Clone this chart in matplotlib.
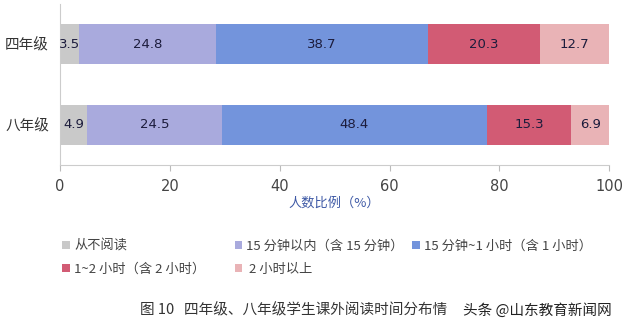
import numpy as np
import matplotlib
matplotlib.use('Agg')
import matplotlib.pyplot as plt
from matplotlib.patches import Patch

plt.rcParams['font.family'] = ['Noto Sans CJK SC', 'DejaVu Sans']

grades = ['八年级', '四年级']
categories = ['从不阅读', '15 分钟以内（含 15 分钟）', '15 分钟~1 小时（含 1 小时）',
              '1~2 小时（含 2 小时）', '2 小时以上']
# rows follow grades order (八年级, 四年级)
values = {
    '从不阅读': [4.9, 3.5],
    '15 分钟以内（含 15 分钟）': [24.5, 24.8],
    '15 分钟~1 小时（含 1 小时）': [48.4, 38.7],
    '1~2 小时（含 2 小时）': [15.3, 20.3],
    '2 小时以上': [6.9, 12.7],
}
colors = ['#c9c9c9', '#a9aadd', '#7394dc', '#d25b74', '#e9b3b6']
xticks = [0, 20, 40, 60, 80, 100]

fig = plt.figure(figsize=(6.4, 3.32), dpi=100)
ax = fig.add_axes([0.094, 0.503, 0.858, 0.485])

y = np.arange(len(grades))
left = np.zeros(len(grades))
handles = []
for cat, col in zip(categories, colors):
    vals = np.array(values[cat])
    ax.barh(y, vals, left=left, height=0.5, color=col, edgecolor='none')
    for yi, (l, v) in enumerate(zip(left, vals)):
        ax.text(l + v / 2, yi, f'{v:.1f}', ha='center', va='center',
                fontsize=9.5, color='#1c1c3c', family='DejaVu Sans')
    left += vals
    handles.append(Patch(facecolor=col, edgecolor='none'))

ax.set_xlim(0, 100)
ax.set_ylim(-0.5, 1.5)
ax.set_xticks(xticks)
ax.set_xticklabels([str(t) for t in xticks], family='DejaVu Sans')
ax.set_yticks(y)
ax.set_yticklabels(grades, fontsize=10.5, color='#333333')
ax.tick_params(axis='y', length=0, pad=8)
ax.tick_params(axis='x', length=4, color='#bbbbbb', labelsize=10.5,
               labelcolor='#444444', pad=6)
for s in ['top', 'right']:
    ax.spines[s].set_visible(False)
for s in ['left', 'bottom']:
    ax.spines[s].set_color('#cccccc')
    ax.spines[s].set_linewidth(0.8)

fig.text(0.522, 0.388, '人数比例（%）', ha='center', va='center',
         fontsize=9.5, color='#3f5aa6')

# legend laid out row by row, three columns at fixed positions
legend_cols = [([0, 3], 0.083), ([1, 4], 0.352), ([2], 0.63)]
for idx, x0 in legend_cols:
    labels = [categories[i] if i != 4 else ' ' + categories[i] for i in idx]
    leg = fig.legend([handles[i] for i in idx], labels, loc='upper left',
                     bbox_to_anchor=(x0, 0.305), frameon=False, fontsize=9.5,
                     handlelength=0.55, handleheight=0.55, handletextpad=0.35,
                     labelspacing=0.75, borderpad=0.2)
    for t in leg.get_texts():
        t.set_color('#444444')

fig.text(0.219, 0.066, '图 10   四年级、八年级学生课外阅读时间分布情', ha='left',
         va='center', fontsize=10.5, color='#333333')
fig.text(0.723, 0.066, '头条 @山东教育新闻网', ha='left', va='center',
         fontsize=10.5, color='#222222')

fig.savefig('out.png', dpi=100, facecolor='white')
